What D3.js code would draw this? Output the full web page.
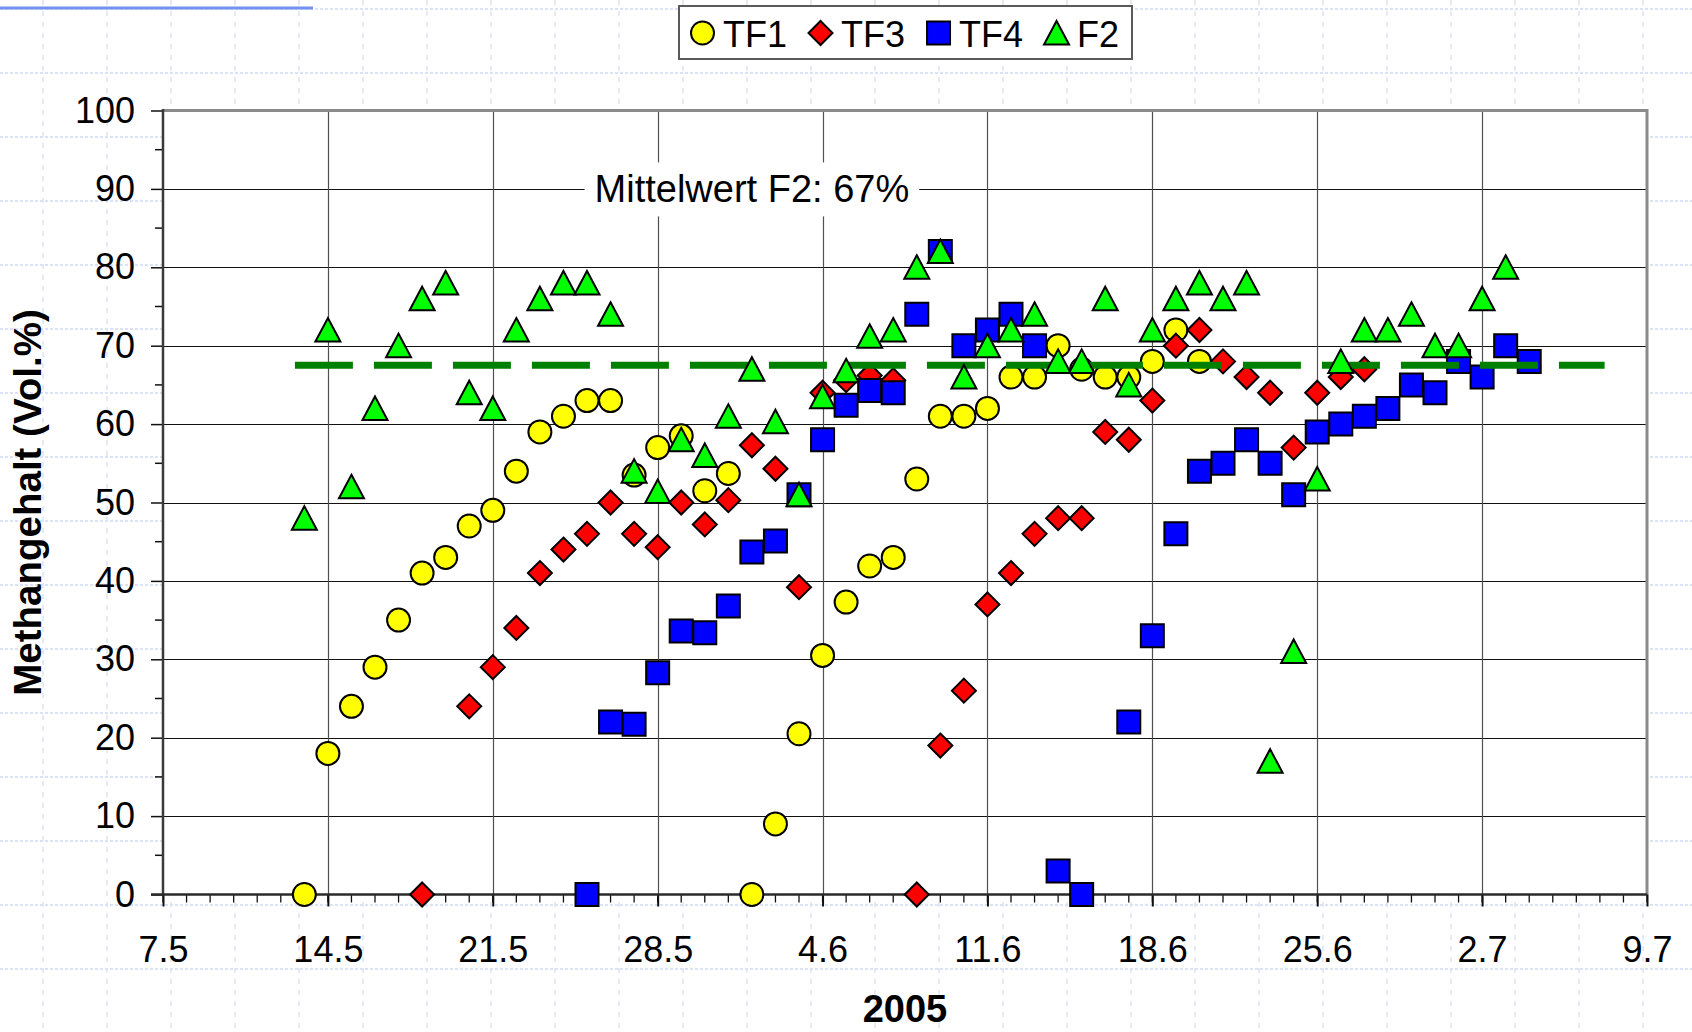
<!DOCTYPE html>
<html>
<head>
<meta charset="utf-8">
<script src="https://cdn.jsdelivr.net/npm/d3@7"></script>
<style>
  body { margin: 0; background: #fff; }
  svg { display: block; font-family: "Liberation Sans", Arial, sans-serif; }
</style>
</head>
<body>
<svg id="chart" width="1692" height="1032"></svg>
<script>
// sampling dates (one per day)
const dates = [
  "2005-05-13", "2005-05-14", "2005-05-15", "2005-05-16", "2005-05-17", "2005-05-18", "2005-05-19",
  "2005-05-20", "2005-05-21", "2005-05-22", "2005-05-23", "2005-05-24", "2005-05-25", "2005-05-26",
  "2005-05-27", "2005-05-28", "2005-05-29", "2005-05-30", "2005-05-31", "2005-06-01", "2005-06-02",
  "2005-06-03", "2005-06-04", "2005-06-05", "2005-06-06", "2005-06-07", "2005-06-08", "2005-06-09",
  "2005-06-10", "2005-06-11", "2005-06-12", "2005-06-13", "2005-06-14", "2005-06-15", "2005-06-16",
  "2005-06-17", "2005-06-18", "2005-06-19", "2005-06-20", "2005-06-21", "2005-06-22", "2005-06-23",
  "2005-06-24", "2005-06-25", "2005-06-26", "2005-06-27", "2005-06-28", "2005-06-29", "2005-06-30",
  "2005-07-01", "2005-07-02", "2005-07-03", "2005-07-04"
];

// Methangehalt in Vol.% per series (null = no measurement)
const tf1 = [
  0, 18, 24, 29, 35, 41, 43, 47, 49, 54, 59, 61, 63, 63, 53.5, 57, 58.5, 51.5, 53.7,
  0, 9, 20.5, 30.5, 37.3, 41.9, 43, 53, 61, 61, 62, 66, 66, 70, 67, 66, 66, 68, 72, 68,
  null, null, null, null, null, null, null, null, null, null, null, null, null, null
];
const tf3 = [
  null, null, null, null, null, 0, null, 24, 29, 34, 41, 44, 46, 50, 46, 44.3, 50, 47.2, 50.3,
  57.3, 54.3, 39.2, 64, 65.6, 66.2, 65.6, 0, 19, 26, 37, 41, 46, 48, 48, 59, 58, 63, 70, 72,
  68, 66, 64, 57, 64, 66, 67, null, null, null, null, null, null, null
];
const tf4 = [
  null, null, null, null, null, null, null, null, null, null, null, null, 0, 22, 21.7, 28.3, 33.6, 33.4, 36.8,
  43.7, 45.1, 51, 58, 62.4, 64.3, 64, 74, 82, 70, 72, 74, 70, 3, 0, null, 22, 33, 46, 54,
  55, 58, 55, 51, 59, 60, 61, 62, 65, 64, 68, 66, 70, 68
];
const f2 = [
  48, 72, 52, 62, 70, 76, 78, 64, 62, 72, 76, 78, 78, 74, 54, 51.4, 58, 56, 61,
  67, 60.3, 51, 63.5, 66.8, 71.2, 72, 80, 82, 66, 70, 72, 74, 68, 68, 76, 65, 72, 76, 78,
  76, 78, 17, 31, 53, 68, 72, 72, 74, 70, 70, 76, 80, null
];

const seriesNames = ["TF1", "TF3", "TF4", "F2"];
const xTickLabels = ["7.5", "14.5", "21.5", "28.5", "4.6", "11.6", "18.6", "25.6", "2.7", "9.7"];
const yTickLabels = ["0", "10", "20", "30", "40", "50", "60", "70", "80", "90", "100"];

// mean line of F2
const meanF2 = 67.5;
const meanSpan = ["2005-05-12 14:24", "2005-07-07 04:48"];
const meanLabel = "Mittelwert F2: 67%";
const meanLabelAt = ["2005-06-01", 90];

const xTitle = "2005";
const yTitle = "Methangehalt (Vol.%)";

const parseDay = d3.timeParse("%Y-%m-%d");
const parseTime = d3.timeParse("%Y-%m-%d %H:%M");

const width = 1692, height = 1032;
const margin = { left: 163, right: 45, top: 110.5, bottom: 137.5 };

const svg = d3.select("#chart");

// slide background: pale dashed lattice
const bg = svg.append("g");
d3.range(9, height, 64).forEach(y => {
  bg.append("line").attr("x1", 0).attr("x2", width).attr("y1", y).attr("y2", y)
    .attr("stroke", "#cfd7f4").attr("stroke-width", 1.5).attr("stroke-dasharray", "3,2");
});
d3.range(43, width, 64).forEach(x => {
  bg.append("line").attr("x1", x).attr("x2", x).attr("y1", 0).attr("y2", height)
    .attr("stroke", "#dde3f7").attr("stroke-width", 1.5).attr("stroke-dasharray", "5,6");
});
bg.append("line").attr("x1", 0).attr("x2", 313).attr("y1", 8).attr("y2", 8)
  .attr("stroke", "#7391ef").attr("stroke-width", 3);

// scales
const xScale = d3.scaleTime()
  .domain([parseDay("2005-05-07"), parseDay("2005-07-09")])
  .range([margin.left, width - margin.right]);
const yScale = d3.scaleLinear()
  .domain([0, 100])
  .range([height - margin.bottom, margin.top]);

const x0 = xScale.range()[0], x1 = xScale.range()[1];
const y0 = yScale.range()[0], y1 = yScale.range()[1];

// plot area
svg.append("rect").attr("x", x0).attr("y", y1).attr("width", x1 - x0).attr("height", y0 - y1)
  .attr("fill", "#fff");

const xMajor = xScale.ticks(d3.timeSaturday.every(1));
const xMinor = xScale.ticks(d3.timeDay.every(1));
const yMajor = yTickLabels.map(Number);

// grid
const grid = svg.append("g");
grid.selectAll(".hg").data(yMajor.slice(1, -1)).join("line")
  .attr("x1", x0).attr("x2", x1)
  .attr("y1", d => Math.round(yScale(d)) + 0.5).attr("y2", d => Math.round(yScale(d)) + 0.5)
  .attr("stroke", "#111").attr("stroke-width", 1);
grid.selectAll(".vg").data(xMajor.slice(1, -1)).join("line")
  .attr("x1", d => Math.round(xScale(d)) + 0.5).attr("x2", d => Math.round(xScale(d)) + 0.5)
  .attr("y1", y1).attr("y2", y0)
  .attr("stroke", "#505050").attr("stroke-width", 1.2);

// plot border (top/right)
svg.append("path").attr("d", `M${x0},${y1}H${x1}V${y0}`)
  .attr("fill", "none").attr("stroke", "#8a8a8a").attr("stroke-width", 3);

// y axis
const yAxis = svg.append("g")
  .attr("transform", `translate(${x0},0)`)
  .call(d3.axisLeft(yScale).tickValues(yMajor).tickFormat((d, i) => yTickLabels[i])
    .tickSize(12).tickSizeOuter(0).tickPadding(16));
yAxis.select(".domain").remove();
yAxis.selectAll(".tick line").attr("stroke", "#111").attr("stroke-width", 1.5);
yAxis.selectAll("text").attr("font-size", 36).attr("fill", "#000")
  .attr("font-family", "Liberation Sans, Arial, sans-serif");
yAxis.selectAll(".minor").data(d3.range(5, 100, 10)).join("line")
  .attr("x1", -8).attr("x2", 0)
  .attr("y1", d => yScale(d)).attr("y2", d => yScale(d))
  .attr("stroke", "#111").attr("stroke-width", 1.5);
svg.append("line").attr("x1", x0).attr("x2", x0).attr("y1", y1 - 1.5).attr("y2", y0)
  .attr("stroke", "#3a3a3a").attr("stroke-width", 2.5);

// x axis
const xAxis = svg.append("g")
  .attr("transform", `translate(0,${y0})`)
  .call(d3.axisBottom(xScale).tickValues(xMajor).tickFormat((d, i) => xTickLabels[i])
    .tickSize(12).tickSizeOuter(0).tickPadding(30));
xAxis.select(".domain").remove();
xAxis.selectAll(".tick line").attr("stroke", "#111").attr("stroke-width", 2);
xAxis.selectAll("text").attr("font-size", 36).attr("fill", "#000")
  .attr("font-family", "Liberation Sans, Arial, sans-serif");
xAxis.selectAll(".minor").data(xMinor).join("line")
  .attr("x1", d => xScale(d)).attr("x2", d => xScale(d))
  .attr("y1", 0).attr("y2", 8)
  .attr("stroke", "#111").attr("stroke-width", 1.3);
svg.append("line").attr("x1", x0 - 12).attr("x2", x1).attr("y1", y0).attr("y2", y0)
  .attr("stroke", "#2a2a2a").attr("stroke-width", 2.5);

// axis titles
svg.append("text")
  .attr("x", (x0 + x1) / 2).attr("y", 1022)
  .attr("text-anchor", "middle").attr("font-size", 38).attr("font-weight", "bold")
  .text(xTitle);
svg.append("text")
  .attr("transform", `translate(41,${(y0 + y1) / 2}) rotate(-90)`)
  .attr("text-anchor", "middle").attr("font-size", 38.5).attr("font-weight", "bold")
  .text(yTitle);

// mean label (white box breaks the grid)
const label = svg.append("g");
const lblText = label.append("text")
  .attr("x", xScale(parseDay(meanLabelAt[0]))).attr("y", yScale(meanLabelAt[1]) + 13.5)
  .attr("text-anchor", "middle").attr("font-size", 38)
  .text(meanLabel);
const bb = lblText.node().getBBox();
label.insert("rect", "text")
  .attr("x", bb.x - 10).attr("y", bb.y - 6).attr("width", bb.width + 20).attr("height", bb.height + 12)
  .attr("fill", "#fff");

// marker shapes
function markerPath(shape) {
  if (shape === "circle") return d3.symbol(d3.symbolCircle, Math.PI * 11.5 * 11.5)();
  if (shape === "diamond") return "M0,-12L12,0L0,12L-12,0Z";
  if (shape === "square") return "M-11.5,-11.5H11.5V11.5H-11.5Z";
  return "M0,-12L12.5,11.5H-12.5Z";
}

const series = [
  { name: seriesNames[0], values: tf1, shape: "circle", fill: "#ffff00" },
  { name: seriesNames[1], values: tf3, shape: "diamond", fill: "#ff0000" },
  { name: seriesNames[2], values: tf4, shape: "square", fill: "#0000ff" },
  { name: seriesNames[3], values: f2, shape: "triangle", fill: "#00ff00" }
];

const marks = svg.append("g");
series.forEach(s => {
  const pts = dates.map((d, i) => ({ date: parseDay(d), v: s.values[i] }))
    .filter(p => p.v !== null);
  marks.append("g").selectAll("path").data(pts).join("path")
    .attr("d", markerPath(s.shape))
    .attr("transform", p => `translate(${xScale(p.date)},${yScale(p.v)})`)
    .attr("fill", s.fill).attr("stroke", "#000").attr("stroke-width", 2);
  if (s.name === "TF4") drawMean();
});

// dashed mean line, drawn between TF4 and F2
function drawMean() {
  const meanLine = d3.line().x(d => xScale(d)).y(() => yScale(meanF2));
  marks.append("path")
    .attr("d", meanLine(meanSpan.map(parseTime)))
    .attr("fill", "none").attr("stroke", "#008000").attr("stroke-width", 7)
    .attr("stroke-dasharray", "58,21");
}

// legend
const legend = svg.append("g");
legend.append("rect")
  .attr("x", 679).attr("y", 6).attr("width", 453).attr("height", 53)
  .attr("fill", "#fff").attr("stroke", "#5a5a5a").attr("stroke-width", 2);
let pos = 690;
series.forEach(s => {
  legend.append("path").attr("d", markerPath(s.shape))
    .attr("transform", `translate(${pos + 12.5},33)`)
    .attr("fill", s.fill).attr("stroke", "#000").attr("stroke-width", 2);
  const t = legend.append("text").attr("x", pos + 33).attr("y", 46.5)
    .attr("font-size", 36).text(s.name);
  pos = pos + 33 + t.node().getComputedTextLength() + 21;
});
</script>
</body>
</html>
